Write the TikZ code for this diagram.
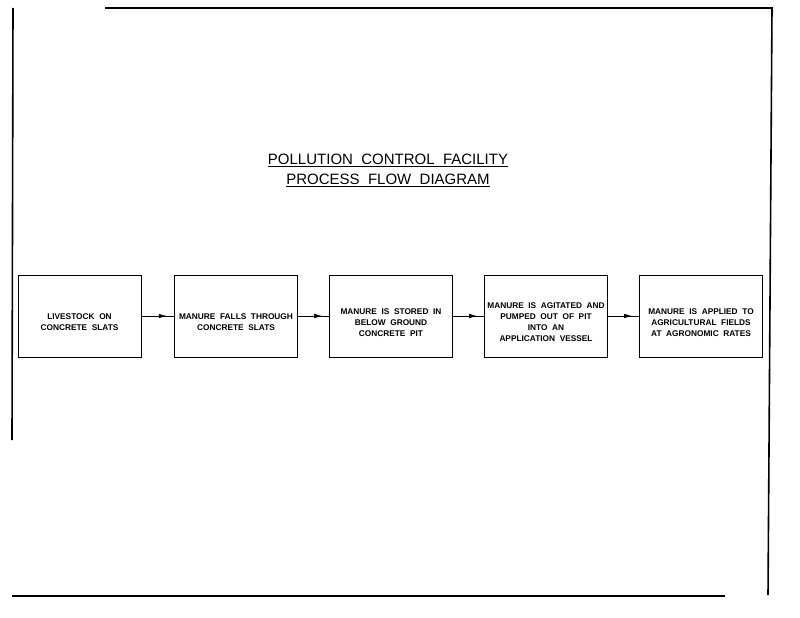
\documentclass[tikz,border=0pt]{standalone}
\usepackage{fontspec}
\setmainfont{Liberation Sans}
\usetikzlibrary{decorations.markings,arrows.meta}
\tikzset{
  stepbox/.style={draw, line width=0.8pt, minimum width=123pt, minimum height=82pt, inner sep=0pt},
  boxtext/.style={yshift=-6.5pt, align=center, inner sep=0pt, font=\fontsize{8.3}{11}\selectfont\bfseries},
  flow/.style={line width=0.8pt, postaction={decorate}, decoration={markings, mark=at position 0.78 with {\arrow{Latex[length=8pt,width=4.5pt]}}}},
  frame/.style={line width=1.6pt},
  titletext/.style={font=\fontsize{15}{19}\selectfont, align=center}
}
\begin{document}
\begin{tikzpicture}[x=1pt,y=-1pt]
\useasboundingbox (0,0) rectangle (800,618);
% frame
\coordinate (tl) at (105,8);
\coordinate (tr) at (772,8);
\coordinate (br) at (768,595);
\coordinate (lt) at (13,8);
\coordinate (lb) at (12,440);
\coordinate (bl) at (12,596);
\coordinate (bre) at (725,596);
\draw[frame] (tl) -- (tr) -- (br);
\draw[frame] (lt) -- (lb);
\draw[frame] (bl) -- (bre);
% title
\node[titletext] (t1) at (388,160) {\underline{POLLUTION\ \ CONTROL\ \ FACILITY}};
\node[titletext] (t2) at (388,180) {\underline{PROCESS\ \ FLOW\ \ DIAGRAM}};
% boxes
\node[stepbox, label={[boxtext]center:LIVESTOCK\ \ ON\\CONCRETE\ \ SLATS}] (b1) at (79.5,316) {};
\node[stepbox, label={[boxtext]center:MANURE\ \ FALLS\ \ THROUGH\\CONCRETE\ \ SLATS}] (b2) at (236,316) {};
\node[stepbox, label={[boxtext]center:MANURE\ \ IS\ \ STORED\ \ IN\\BELOW\ \ GROUND\\CONCRETE\ \ PIT}] (b3) at (391,316) {};
\node[stepbox, label={[boxtext]center:MANURE\ \ IS\ \ AGITATED\ \ AND\\PUMPED\ \ OUT\ \ OF\ \ PIT\\INTO\ \ AN\\APPLICATION\ \ VESSEL}] (b4) at (546,316) {};
\node[stepbox, label={[boxtext]center:MANURE\ \ IS\ \ APPLIED\ \ TO\\AGRICULTURAL\ \ FIELDS\\AT\ \ AGRONOMIC\ \ RATES}] (b5) at (701,316) {};
% connectors
\draw[flow] (b1) -- (b2);
\draw[flow] (b2) -- (b3);
\draw[flow] (b3) -- (b4);
\draw[flow] (b4) -- (b5);
\end{tikzpicture}
\end{document}
